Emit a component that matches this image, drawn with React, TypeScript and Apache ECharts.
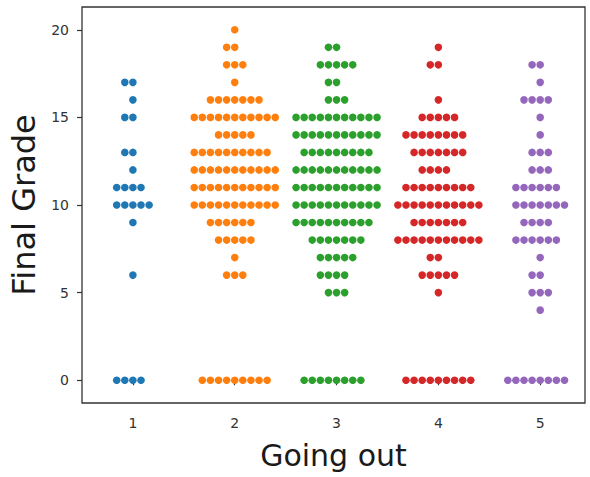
import React, { useEffect, useRef } from "react";
import * as echarts from "echarts";

// "Going out" levels and the final grades (0..20) that the counts below are indexed by
const goingOutLevels = [1, 2, 3, 4, 5];
const gradeScale = Array.from({ length: 21 }, (_, g) => g);

// Number of students at each final grade (index = grade) for every "Going out" level
const countsLevel1 = [4, 0, 0, 0, 0, 0, 1, 0, 0, 1, 5, 4, 1, 2, 0, 2, 1, 2, 0, 0, 0];
const countsLevel2 = [9, 0, 0, 0, 0, 0, 3, 1, 5, 6, 11, 11, 11, 10, 5, 11, 7, 1, 3, 2, 1];
const countsLevel3 = [8, 0, 0, 0, 0, 3, 4, 5, 7, 10, 11, 11, 11, 9, 11, 11, 3, 2, 5, 2, 0];
const countsLevel4 = [9, 0, 0, 0, 0, 1, 5, 2, 11, 7, 11, 9, 4, 7, 8, 5, 1, 0, 2, 1, 0];
const countsLevel5 = [8, 0, 0, 0, 1, 3, 2, 1, 6, 4, 7, 6, 3, 3, 1, 1, 4, 1, 2, 0, 0];

const yTicks = [0, 5, 10, 15, 20];
const palette = ["#1f77b4", "#ff7f0e", "#2ca02c", "#d62728", "#9467bd"];

const W = 590;
const H = 477;
const GRID = { left: 82, right: 5, top: 7, bottom: 74 };
const X_MIN = 0.5;
const X_MAX = 5.44;
const Y_MIN = -1.3;
const Y_MAX = 21.3;
const DOT = 7.6;
const DOT_GAP = 8.1; // px between neighbouring dot centres in a row

// Beeswarm layout: first dot on the centre line, then alternate left / right
function swarm(level: number, counts: number[]): number[][] {
  const pxPerUnit = (W - GRID.left - GRID.right) / (X_MAX - X_MIN);
  const step = DOT_GAP / pxPerUnit;
  const pts: number[][] = [];
  counts.forEach((n, idx) => {
    const grade = gradeScale[idx];
    for (let i = 0; i < n; i++) {
      const k = i === 0 ? 0 : i % 2 === 1 ? -(i + 1) / 2 : i / 2;
      pts.push([level + k * step, grade]);
    }
  });
  return pts;
}

export default function App() {
  const ref = useRef<HTMLDivElement>(null);

  useEffect(() => {
    if (!ref.current) return;
    const chart = echarts.init(ref.current, null, { renderer: "svg" });
    const allCounts = [countsLevel1, countsLevel2, countsLevel3, countsLevel4, countsLevel5];
    const axisText = { color: "#333", fontSize: 14, fontFamily: "DejaVu Sans" };

    chart.setOption({
      animation: false,
      backgroundColor: "#fff",
      grid: {
        ...GRID,
        show: true,
        borderColor: "#333",
        borderWidth: 1.3,
        backgroundColor: "transparent",
      },
      xAxis: {
        type: "value",
        min: X_MIN,
        max: X_MAX,
        name: "Going out",
        nameLocation: "middle",
        nameGap: 37,
        nameTextStyle: { color: "#1a1a1a", fontSize: 30, fontFamily: "DejaVu Sans" },
        axisLine: { show: false },
        splitLine: { show: false },
        axisTick: {
          show: true,
          length: 5,
          customValues: goingOutLevels,
          lineStyle: { color: "#333", width: 1.2 },
        },
        axisLabel: { ...axisText, margin: 13, customValues: goingOutLevels },
      },
      yAxis: {
        type: "value",
        min: Y_MIN,
        max: Y_MAX,
        name: "Final Grade",
        nameLocation: "middle",
        nameGap: 39,
        nameTextStyle: { color: "#1a1a1a", fontSize: 32, fontFamily: "DejaVu Sans" },
        axisLine: { show: false },
        splitLine: { show: false },
        axisTick: {
          show: true,
          length: 5,
          customValues: yTicks,
          lineStyle: { color: "#333", width: 1.2 },
        },
        axisLabel: { ...axisText, margin: 13, customValues: yTicks },
      },
      series: goingOutLevels.map((level, i) => ({
        type: "scatter",
        name: String(level),
        symbol: "circle",
        symbolSize: DOT,
        itemStyle: { color: palette[i], opacity: 1 },
        data: swarm(level, allCounts[i]),
      })),
    });

    return () => chart.dispose();
  }, []);

  return (
    <div
      ref={ref}
      style={{ position: "fixed", left: 0, top: 0, width: W, height: H, background: "#fff" }}
    />
  );
}
